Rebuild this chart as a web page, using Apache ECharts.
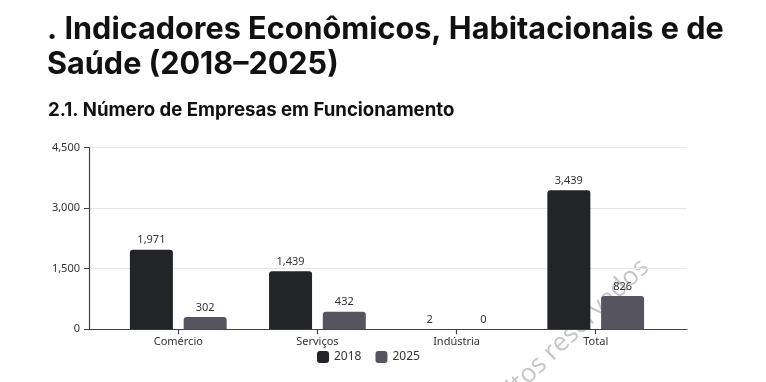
<!DOCTYPE html>
<html><head><meta charset="utf-8">
<script src="https://cdn.jsdelivr.net/npm/echarts@6/dist/echarts.min.js"></script>
<style>html,body{margin:0;padding:0;background:#fff}#c{width:766px;height:382px}</style>
</head><body><div id="c"></div>
<script>
const categories = ['Comércio', 'Serviços', 'Indústria', 'Total'];
const values2018 = [1971, 1439, 2, 3439];
const values2025 = [302, 432, 0, 826];
const seriesNames = ['2018', '2025'];
const yTicks = [0, 1500, 3000, 4500];

const chart = echarts.init(document.getElementById('c'), null, {renderer: 'canvas'});
const font = '"Noto Sans",sans-serif';
const gridOuter = {left: 89, right: 79, top: 147.5, bottom: 52.7};
const gridInner = {left: 108.7, right: 100.7, top: 147.5, bottom: 52.7};
const yMax = yTicks[yTicks.length - 1];
const yStep = yTicks[1] - yTicks[0];

chart.setOption({
  animation: false,
  backgroundColor: '#fff',
  title: [
    {text: '. Indicadores Econômicos, Habitacionais e de\nSaúde (2018–2025)', left: 42, top: 7,
     textStyle: {fontFamily: 'Inter', fontWeight: 700, fontSize: 30.6, lineHeight: 35, color: '#111'}},
    {text: '2.1. Número de Empresas em Funcionamento', left: 43, top: 96,
     textStyle: {fontFamily: 'Inter', fontWeight: 700, fontSize: 18.6, color: '#111'}}
  ],
  graphic: [{
    type: 'text', x: 654, y: 273, rotation: 0.76, z: -10, silent: true,
    style: {text: 'Todos os direitos reservados', fontSize: 26, fontFamily: '"Open Sans",sans-serif',
            fill: '#c6c6c6', textAlign: 'right', textVerticalAlign: 'bottom'}
  }],
  legend: {
    data: seriesNames, left: 312, top: 346, itemWidth: 12, itemHeight: 12, itemGap: 14,
    icon: 'roundRect', textStyle: {fontFamily: font, fontSize: 12, color: '#333'}
  },
  grid: [gridOuter, gridInner],
  xAxis: [
    {gridIndex: 0, type: 'value', min: 0, max: 1, axisLine: {show: true, onZero: false, lineStyle: {color: '#444', width: 1.2}},
     axisTick: {show: false}, axisLabel: {show: false}, splitLine: {show: false}},
    {gridIndex: 1, type: 'category', data: categories, axisLine: {show: false},
     axisTick: {show: true, alignWithLabel: true, length: 5, lineStyle: {color: '#444', width: 1.2}},
     axisLabel: {fontFamily: font, fontSize: 11, color: '#333', margin: 7}}
  ],
  yAxis: [
    {gridIndex: 0, type: 'value', min: 0, max: yMax, interval: yStep,
     axisLine: {show: true, lineStyle: {color: '#444', width: 1.2}},
     axisTick: {show: true, length: 5, lineStyle: {color: '#444'}},
     axisLabel: {fontFamily: font, fontSize: 11, color: '#333', margin: 9,
                 formatter: v => v.toLocaleString('en-US')},
     splitLine: {show: true, lineStyle: {color: '#e6e6e6', width: 1}}},
    {gridIndex: 1, type: 'value', min: 0, max: yMax, interval: yStep, show: false}
  ],
  series: [
    {name: seriesNames[0], type: 'bar', xAxisIndex: 1, yAxisIndex: 1, data: values2018,
     barWidth: 43, barGap: '25%', itemStyle: {color: '#232428', borderRadius: [3, 3, 0, 0]},
     label: {show: true, position: 'top', distance: 4, fontFamily: font, fontSize: 11, color: '#333',
             formatter: p => p.value.toLocaleString('en-US')}},
    {name: seriesNames[1], type: 'bar', xAxisIndex: 1, yAxisIndex: 1, data: values2025,
     barWidth: 43, barGap: '25%', itemStyle: {color: '#56555f', borderRadius: [3, 3, 0, 0]},
     label: {show: true, position: 'top', distance: 4, fontFamily: font, fontSize: 11, color: '#333',
             formatter: p => p.value.toLocaleString('en-US')}}
  ]
});
</script></body></html>
